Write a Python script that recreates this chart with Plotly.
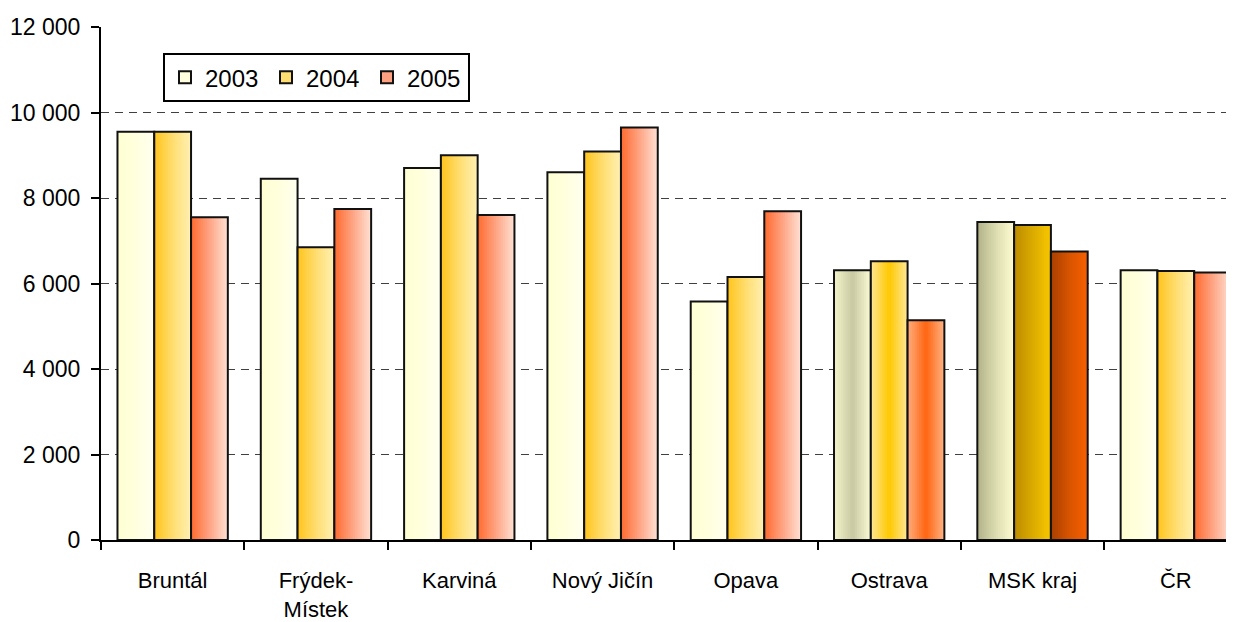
import plotly.graph_objects as go

# ---------------- data ----------------
categories = ["Bruntál", "Frýdek-<br>Místek", "Karviná", "Nový Jičín", "Opava", "Ostrava", "MSK kraj", "ČR"]
years = ["2003", "2004", "2005"]
v2003 = [9550, 8450, 8700, 8600, 5580, 6310, 7440, 6310]
v2004 = [9550, 6850, 9000, 9090, 6150, 6520, 7370, 6290]
v2005 = [7550, 7740, 7600, 9650, 7690, 5140, 6750, 6260]
y_tickvals = [0, 2000, 4000, 6000, 8000, 10000, 12000]
y_ticktext = ["0", "2 000", "4 000", "6 000", "8 000", "10 000", "12 000"]
grid_vals = [2000, 4000, 6000, 8000, 10000]
series = [v2003, v2004, v2005]

# ---------------- styles (gradients) ----------------
FONT = "Liberation Sans Narrow, Arial Narrow, Liberation Sans, Arial"
grad = {
    "A": [("#FFFFD2", "#FFFFDE", "#FFFFF0"),
          ("#FFC41C", "#FFDD70", "#FFF0B4"),
          ("#FF6A2E", "#FFA484", "#FFE2D4")],
    "B": [("#F6F6CC", "#C8C8A2", "#FAFAD4"),
          ("#FFE694", "#FFC800", "#FFE898"),
          ("#FFAE80", "#FF6410", "#FFB486")],
    "C": [("#B2B28A", "#DCDCB0", "#FFFCD2"),
          ("#BC8C00", "#DAAA00", "#F8C800"),
          ("#A84000", "#D85400", "#F86000")],
}
cat_type = ["A", "A", "A", "A", "A", "B", "C", "A"]
legend_colors = ["#FFFFE0", "#FFDD70", "#FFA080"]


def hex2rgb(h):
    h = h.lstrip("#")
    return [int(h[i:i + 2], 16) for i in (0, 2, 4)]


def interp(stops, t):
    c = [hex2rgb(s) for s in stops]
    if t <= 0.5:
        a, b, u = c[0], c[1], t / 0.5
    else:
        a, b, u = c[1], c[2], (t - 0.5) / 0.5
    r = [round(a[i] + (b[i] - a[i]) * u) for i in range(3)]
    return "rgb(%d,%d,%d)" % tuple(r)


bargap = 0.23
bw = (1 - bargap) / 3
NS = 16

fig = go.Figure()
# invisible trace on yaxis2 so its dashed gridlines are drawn
fig.add_trace(go.Scatter(x=[categories[0]], y=[None], yaxis="y2", showlegend=False, hoverinfo="skip"))

for k, vals in enumerate(series):
    start = -(1 - bargap) / 2 + k * bw
    sw = bw / NS
    for j in range(NS):
        t = (j + 0.5) / NS
        colors = [interp(grad[cat_type[c]][k], t) for c in range(len(categories))]
        fig.add_trace(go.Bar(
            x=categories, y=vals, offset=start + j * sw, width=bw - j * sw,
            marker=dict(color=colors, line=dict(width=0)),
            showlegend=False, hoverinfo="skip"))
    fig.add_trace(go.Bar(
        x=categories, y=vals, offset=start, width=bw,
        marker=dict(color="rgba(0,0,0,0)", line=dict(color="#111111", width=2)),
        showlegend=False, name=years[k]))

for k in range(3):
    fig.add_trace(go.Bar(x=[None], y=[None], name=years[k],
                         marker=dict(color=legend_colors[k], line=dict(color="#111111", width=2))))

fig.update_layout(
    width=1226, height=614,
    margin=dict(l=93, r=0, t=19, b=82),
    paper_bgcolor="white", plot_bgcolor="white",
    barmode="overlay",
    font=dict(family=FONT, size=22, color="black"),
    xaxis=dict(range=[-0.5, 7.406], showline=True, linecolor="black", linewidth=2,
               ticks="outside", tickson="boundaries", ticklen=8, tickwidth=2, tickcolor="black",
               showgrid=False, ticklabelstandoff=20, tickfont=dict(family=FONT, size=22)),
    yaxis=dict(range=[0, 12000], tickvals=y_tickvals, ticktext=y_ticktext,
               showline=True, linecolor="black", linewidth=2,
               ticks="outside", ticklen=8, tickwidth=2, tickcolor="black",
               showgrid=False, zeroline=False, ticklabelstandoff=6,
               tickfont=dict(family=FONT, size=23)),
    yaxis2=dict(range=[0, 12000], overlaying="y", tickvals=grid_vals, showticklabels=False,
                showgrid=True, gridcolor="#404040", griddash="8px,6px", gridwidth=1,
                showline=False, zeroline=False, ticks="", layer="below traces"),
    legend=dict(orientation="h", x=0.0547, y=0.949, xanchor="left", yanchor="top",
                bordercolor="black", borderwidth=2, bgcolor="white",
                font=dict(family=FONT, size=24), entrywidth=56,
                traceorder="normal"),
)

fig.write_html("out.html")
